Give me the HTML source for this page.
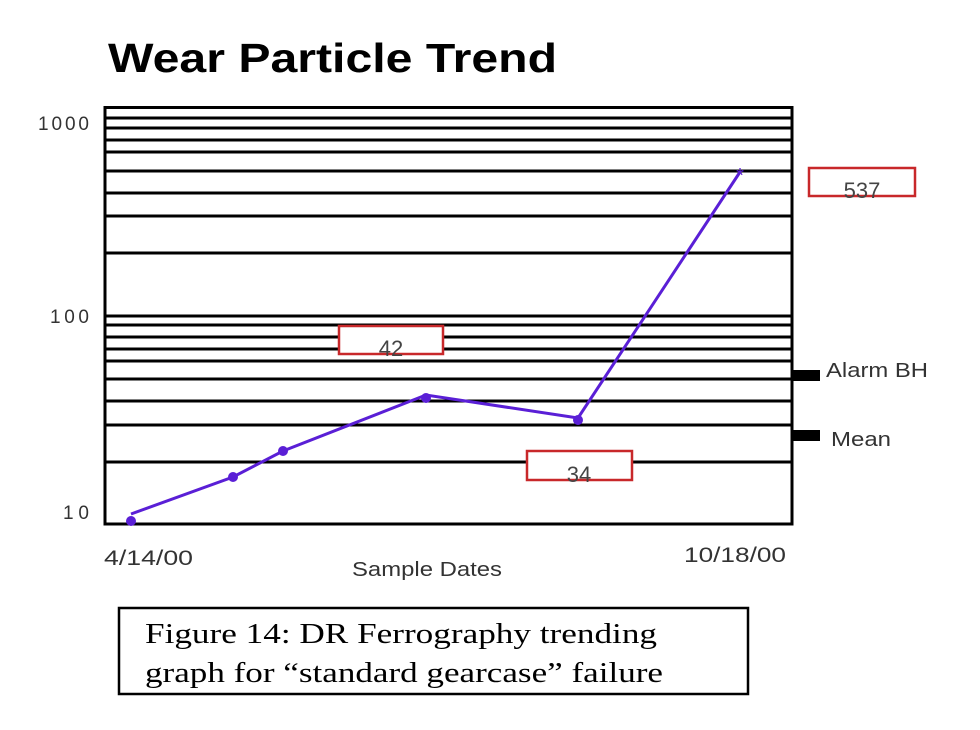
<!DOCTYPE html>
<html><head><meta charset="utf-8"><style>html,body{margin:0;padding:0;background:#fff;}</style></head>
<body>
<svg width="980" height="725" viewBox="0 0 980 725" xmlns="http://www.w3.org/2000/svg">
<rect width="980" height="725" fill="#fff"/>
<text x="108" y="72" font-family="Liberation Sans, sans-serif" font-weight="bold" font-size="41" textLength="449" lengthAdjust="spacingAndGlyphs" fill="#000">Wear Particle Trend</text>
<g stroke="#000" stroke-width="3">
<line x1="104" y1="118" x2="792" y2="118"/>
<line x1="104" y1="128" x2="792" y2="128"/>
<line x1="104" y1="140" x2="792" y2="140"/>
<line x1="104" y1="152" x2="792" y2="152"/>
<line x1="104" y1="171" x2="792" y2="171"/>
<line x1="104" y1="193" x2="792" y2="193"/>
<line x1="104" y1="216" x2="792" y2="216"/>
<line x1="104" y1="253" x2="792" y2="253"/>
<line x1="104" y1="316" x2="792" y2="316"/>
<line x1="104" y1="325" x2="792" y2="325"/>
<line x1="104" y1="337" x2="792" y2="337"/>
<line x1="104" y1="349" x2="792" y2="349"/>
<line x1="104" y1="361" x2="792" y2="361"/>
<line x1="104" y1="379" x2="792" y2="379"/>
<line x1="104" y1="401" x2="792" y2="401"/>
<line x1="104" y1="425" x2="792" y2="425"/>
<line x1="104" y1="462" x2="792" y2="462"/>
</g>
<rect x="105" y="107.5" width="687" height="416.5" fill="none" stroke="#000" stroke-width="3"/>
<g font-family="Liberation Sans, sans-serif" font-size="19" fill="#333" lengthAdjust="spacingAndGlyphs">
<text x="38" y="130" textLength="51">1000</text>
<text x="50" y="323" textLength="39">100</text>
<text x="63" y="519" textLength="26">10</text>
</g>
<g font-family="Liberation Sans, sans-serif" font-size="21" fill="#333">
<text x="104" y="565" textLength="89" lengthAdjust="spacingAndGlyphs">4/14/00</text>
<text x="684" y="562" textLength="102" lengthAdjust="spacingAndGlyphs">10/18/00</text>
<text x="352" y="576" font-size="20" textLength="150" lengthAdjust="spacingAndGlyphs">Sample Dates</text>
<text x="826" y="377" font-size="20" textLength="102" lengthAdjust="spacingAndGlyphs">Alarm BH</text>
<text x="831" y="446" font-size="20" textLength="60" lengthAdjust="spacingAndGlyphs">Mean</text>
</g>
<rect x="792" y="370" width="28" height="11" fill="#000"/>
<rect x="792" y="430" width="28" height="11" fill="#000"/>
<polyline points="131,514 233,477 283,451 426,395 578,418 740,172" fill="none" stroke="#5a1fd6" stroke-width="3"/>
<g fill="#5a1fd6">
<circle cx="131" cy="521" r="5"/><circle cx="233" cy="477" r="5"/><circle cx="283" cy="451" r="5"/>
<circle cx="426" cy="398" r="5"/><circle cx="578" cy="420" r="5"/>
</g>
<text x="740" y="182" font-family="Liberation Sans, sans-serif" font-size="20" fill="#5a1fd6" text-anchor="middle">*</text>
<g fill="#fff" stroke="#c8282a" stroke-width="2.5">
<rect x="809" y="168" width="106" height="28"/>
<rect x="339" y="326" width="104" height="28"/>
<rect x="527" y="451" width="105" height="29"/>
</g>
<g font-family="Liberation Sans, sans-serif" font-size="22" fill="#444" text-anchor="middle">
<text x="862" y="198">537</text>
<text x="391" y="356">42</text>
<text x="579" y="482">34</text>
</g>
<rect x="119" y="608" width="629" height="86" fill="none" stroke="#000" stroke-width="2.5"/>
<g font-family="Liberation Serif, serif" font-size="29" fill="#000">
<text x="145" y="643" textLength="512" lengthAdjust="spacingAndGlyphs">Figure 14: DR Ferrography trending</text>
<text x="145" y="682" textLength="518" lengthAdjust="spacingAndGlyphs">graph for “standard gearcase” failure</text>
</g>
</svg>
</body></html>
